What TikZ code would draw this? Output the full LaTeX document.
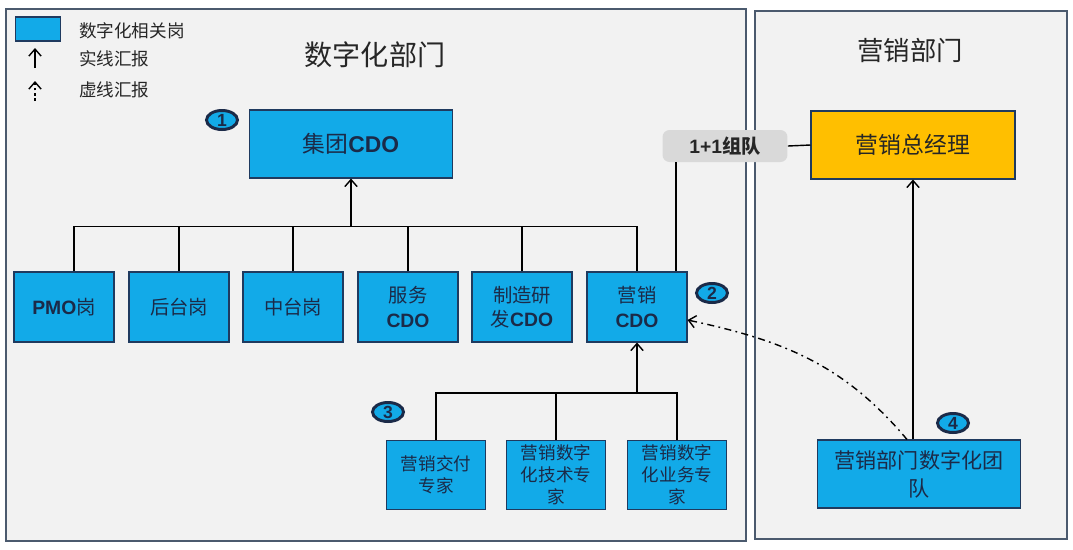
\documentclass[tikz,border=0pt]{standalone}
\usepackage{fontspec}
\setmainfont{Noto Sans CJK SC}
\newfontfamily\arialfont{Liberation Sans}
\usetikzlibrary{shapes.geometric, arrows.meta}
\definecolor{cdoblue}{HTML}{12AAE8}
\definecolor{boxline}{HTML}{1F3A5F}
\definecolor{navytext}{HTML}{1B2A48}
\definecolor{panelfill}{HTML}{F2F2F2}
\definecolor{panelline}{HTML}{4B5A6E}
\definecolor{mgrorange}{HTML}{FFBF00}
\definecolor{teamgray}{HTML}{D9D9D9}
\newcommand\lat[1]{{\arialfont\bfseries #1}}
\tikzset{
  panel/.style={draw=panelline, fill=panelfill, line width=1.3pt},
  gangwei/.style={draw=boxline, fill=cdoblue, text=navytext, align=center,
    inner sep=1pt, line width=0.6pt},
  rowbox/.style={gangwei, minimum width=2cm, minimum height=1.4cm,
    font=\fontsize{11}{14}\selectfont},
  expertbox/.style={gangwei, minimum width=1.98cm, minimum height=1.38cm,
    font=\fontsize{10}{12.5}\selectfont},
  bigbox/.style={gangwei, minimum width=4.06cm, minimum height=1.36cm,
    font=\fontsize{13}{15}\selectfont},
  numtag/.style={ellipse, draw=navytext, line width=1.7pt, fill=cdoblue,
    minimum width=0.62cm, minimum height=0.38cm, inner sep=0pt,
    font=\arialfont\bfseries\fontsize{10}{10}\selectfont, text=navytext},
  report/.style={-{Straight Barb[length=4pt, width=7pt]}, line width=0.8pt},
  dotreport/.style={-{Straight Barb[length=4pt, width=7pt]}, line width=0.8pt,
    dash pattern=on 4pt off 2.5pt on 1pt off 2.5pt},
  link/.style={line width=0.8pt},
  legendtext/.style={anchor=west, font=\fontsize{10}{12}\selectfont, text=black!85},
  title/.style={font=\fontsize{16}{18}\selectfont, text=black!85}
}
\begin{document}
\begin{tikzpicture}[x=0.02cm, y=-0.02cm]
\useasboundingbox[fill=white] (0,0) rectangle (1073,549);

% two departments
\draw[panel] (6,9) rectangle (746,541);
\draw[panel] (755,11) rectangle (1067,539);
\node[title] (digtitle) at (375,55) {数字化部门};
\node[title, font=\fontsize{15}{18}\selectfont] (mkttitle) at (910,50) {营销部门};

% legend
\node[gangwei, minimum width=0.9cm, minimum height=0.48cm] (lgbox) at (38,29) {};
\node[legendtext] (lgblue) at (73,31) {数字化相关岗};
\coordinate (lgs0) at (35,68);
\coordinate (lgs1) at (35,48);
\draw[report] (lgs0) -- (lgs1);
\node[legendtext] (lgsolid) at (73,59) {实线汇报};
\coordinate (lgd0) at (35,101);
\coordinate (lgd1) at (35,81);
\draw[dotreport, dash pattern=on 1.5pt off 1.5pt] (lgd0) -- (lgd1);
\node[legendtext] (lgdash) at (73,90) {虚线汇报};

% group CDO and first row
\node[bigbox] (jt) at (351,144) {集团\lat{CDO}};
\node[numtag] (n1) at (222,120) {1};
\node[rowbox] (pmo) at (64,307) {\lat{PMO}岗};
\node[rowbox] (ht) at (179,307) {后台岗};
\node[rowbox] (zt) at (293,307) {中台岗};
\node[rowbox] (fw) at (408,307) {服务\\\lat{CDO}};
\node[rowbox] (zz) at (522,307) {制造研\\发\lat{CDO}};
\node[rowbox] (yx) at (637,307) {营销\\\lat{CDO}};
\node[numtag] (n2) at (712,293) {2};

\coordinate (bus) at (351,227);
\draw[link] ([xshift=0.2cm]pmo.north) -- ++(0,-45) -| (yx.north);
\draw[link] (ht.north) -- (ht.north |- bus);
\draw[link] (zt.north) -- (zt.north |- bus);
\draw[link] (fw.north) -- (fw.north |- bus);
\draw[link] (zz.north) -- (zz.north |- bus);
\draw[report] (bus) -- (jt.south);

% experts under marketing CDO
\node[expertbox] (jf) at (436,475) {营销交付\\专家};
\node[expertbox] (js) at (556,475) {营销数字\\化技术专\\家};
\node[expertbox] (yw) at (677,475) {营销数字\\化业务专\\家};
\node[numtag] (n3) at (388,412) {3};
\coordinate (sbus) at (637,394);
\draw[link] (jf.north) -- ++(0,-47) -| (yw.north);
\draw[link] (js.north) -- (js.north |- sbus);
\draw[report] (sbus) -- (yx.south);

% marketing department
\node[gangwei, fill=mgrorange, text=black!85, minimum width=4.08cm,
  minimum height=1.36cm, font=\fontsize{13}{15}\selectfont] (zj) at (913,145) {营销总经理};
\node[bigbox, font=\fontsize{12}{16}\selectfont, text width=3.8cm] (team) at (919,474)
  {营销部门数字化团\\队};
\node[numtag] (n4) at (953,423) {4};
\draw[report] (team.north -| zj.south) -- (zj.south);

% 1+1 team-up
\node[fill=teamgray, rounded corners=4pt, minimum width=2.5cm, minimum height=0.64cm,
  font=\fontsize{11}{13}\selectfont\bfseries, text=black!85] (zd) at (725,146) {\lat{1+1}组队};
\draw[link] (zd.east) -- (zj.west);
\draw[link] ([xshift=-0.98cm]zd.south) -- ([xshift=-0.98cm]zd.south |- yx.north);

% dotted report to marketing CDO
\draw[dotreport] ([xshift=-0.24cm]team.north) to[out=130, in=-12] ([yshift=-0.26cm]yx.east);
\end{tikzpicture}
\end{document}
